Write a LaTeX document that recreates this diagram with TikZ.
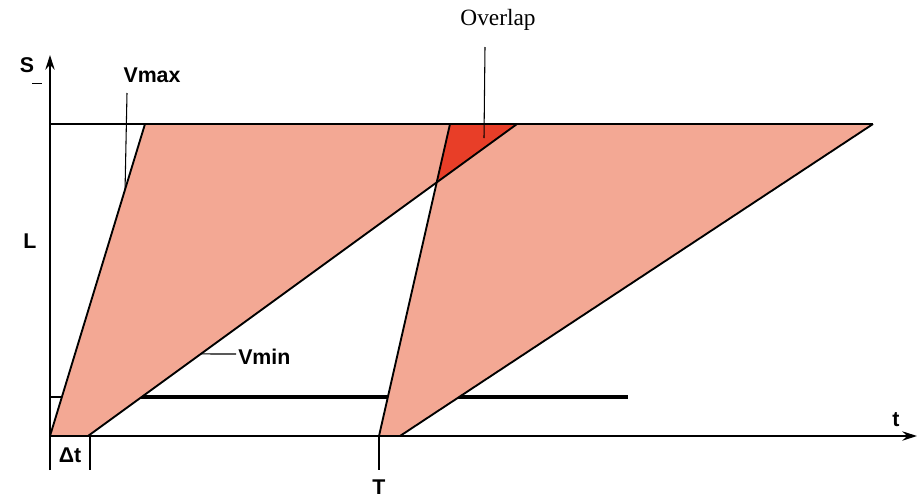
\documentclass[tikz,border=0pt]{standalone}
\usepackage{fontspec}
\setmainfont{Liberation Serif}
\newfontfamily\lbl{Liberation Sans}
\usetikzlibrary{arrows.meta}
\definecolor{shadecol}{RGB}{243,168,148}
\definecolor{overcol}{RGB}{232,62,40}
\begin{document}
\begin{tikzpicture}[x=0.75pt,y=-0.75pt,line join=round,
  ax/.style={line width=1.2pt},
  edge/.style={line width=1.4pt},
  thin/.style={line width=0.8pt},
  lab/.style={font=\lbl\bfseries\fontsize{16}{18}\selectfont,inner sep=0pt},
  arr/.style={-{Stealth[length=11pt,width=7pt]}}]
\path[use as bounding box] (0,0) rectangle (918,497);
% key points
\coordinate (O) at (50,436);
\coordinate (A1) at (88,436);
\coordinate (B1) at (145,124);
\coordinate (C1) at (517,124);
\coordinate (A2) at (379,436);
\coordinate (D2) at (400,436);
\coordinate (B2) at (450,124);
\coordinate (C2) at (873,124);
\coordinate (X) at (436.7,182.4);
\coordinate (TL) at (50,124);
\coordinate (Ytop) at (50,55);
\coordinate (Ybot) at (50,470);
\coordinate (Xend) at (917,436);
\coordinate (H0) at (50,397);
\coordinate (H1) at (61.9,397);
\coordinate (H2) at (628,397);
\coordinate (DT) at (90,436);
\coordinate (DTb) at (90,470);
\coordinate (Tb) at (379,470);
% thick horizontal bar (behind shading)
\draw[thin] (H0) -- (H1);
\draw[line width=2.6pt] (H1) -- (H2);
% shaded bands
\fill[shadecol] (O) -- (A1) -- (C1) -- (B1) -- cycle;
\fill[shadecol] (A2) -- (D2) -- (C2) -- (B2) -- cycle;
\fill[overcol] (X) -- (B2) -- (C1) -- cycle;
% edges
\draw[edge] (O) -- (B1);
\draw[edge] (A1) -- (C1);
\draw[edge] (A2) -- (B2);
\draw[edge] (D2) -- (C2);
\draw[ax] (TL) -- (C2);
% axes
\draw[ax,arr] (Ybot) -- (Ytop);
\draw[ax,arr] (O) -- (Xend);
\draw[thin] (DT) -- (DTb);
\draw[thin] (A2) -- (Tb);
% labels
\node[lab] (S) at (27,65) {S};
\coordinate (s1) at (32,83); \coordinate (s2) at (42,83);
\draw[line width=0.6pt] (s1) -- (s2);
\node[lab] (L) at (30,241) {L};
\node[lab] (vmax) at (152,75) {Vmax};
\path (O) -- (B1) coordinate[pos=0.79] (vmaxp);
\coordinate (vmaxq) at (127,93);
\draw[thin] (vmaxq) -- (vmaxp);
\path (A1) -- (C1) coordinate[pos=0.263] (vminp);
\node[lab,anchor=west] (vmin) at (238,357) {Vmin};
\coordinate (vminq) at (236,354);
\draw[thin] (vminp) -- (vminq);
\node[font=\fontsize{17.5}{20}\selectfont,inner sep=0pt] (ov) at (498,20) {Overlap};
\coordinate (ova) at (485,47); \coordinate (ovb) at (484,138);
\draw[thin] (ova) -- (ovb);
\node[lab] (dt) at (70,455) {Δt};
\node[lab] (t) at (896,420) {t};
\node[lab] (T) at (379,487) {T};
\end{tikzpicture}
\end{document}
